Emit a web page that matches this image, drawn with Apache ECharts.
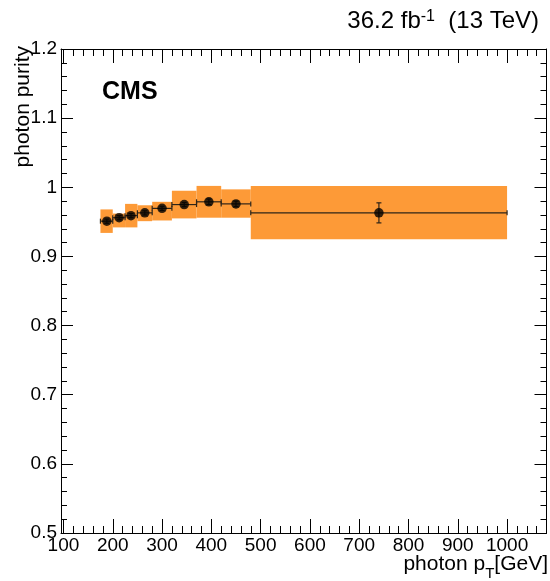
<!DOCTYPE html>
<html>
<head>
<meta charset="utf-8">
<script src="https://cdn.jsdelivr.net/npm/echarts@6/dist/echarts.min.js"></script>
<style>
  html, body { margin: 0; padding: 0; background: #fff; }
  #chart { width: 550px; height: 581px; }
</style>
</head>
<body>
<div id="chart"></div>
<script>
// photon pT bins (GeV)
const binLo = [175, 200, 225, 250, 280, 320, 370, 420, 480];
const binHi = [200, 225, 250, 280, 320, 370, 420, 480, 1000];
const ptCenter = [188, 213, 237, 265, 300, 345, 395, 450, 740];
// measured purity + stat error
const purity = [0.951, 0.956, 0.959, 0.963, 0.9695, 0.975, 0.979, 0.976, 0.963];
const statErr = [0.003, 0.003, 0.003, 0.003, 0.003, 0.003, 0.004, 0.004, 0.0145];
// systematic band (orange boxes)
const bandLo = [0.934, 0.942, 0.942, 0.951, 0.952, 0.955, 0.956, 0.956, 0.925];
const bandHi = [0.968, 0.962, 0.976, 0.974, 0.979, 0.995, 1.002, 0.997, 1.002];
// axis ticks
const xTicks = [100, 200, 300, 400, 500, 600, 700, 800, 900, 1000];
const xMinorTicks = [];
for (let v = 120; v <= 1080; v += 20) {
    if (v % 100 !== 0) xMinorTicks.push(v);
}

const chart = echarts.init(document.getElementById('chart'));
const font = 'Liberation Sans, Helvetica, Arial, sans-serif';
const xMin = 95, xMax = 1080;

// bottom/top x axes, one for major and one for minor ticks
function xAxisDef(pos, minor, labels) {
    return {
        type: 'value', position: pos, min: xMin, max: xMax,
        axisLine: { show: !minor, lineStyle: { color: '#000', width: 1 } },
        axisTick: { inside: true, length: minor ? 7 : 14, customValues: minor ? xMinorTicks : xTicks,
            lineStyle: { color: '#000', width: 1 } },
        axisLabel: labels ? { customValues: xTicks, color: '#000', fontSize: 19, fontFamily: font, margin: 3,
            formatter: v => String(v) } : { show: false },
        splitLine: { show: false }
    };
}
function yAxisDef(pos, labels) {
    return {
        type: 'value', position: pos, min: 0.5, max: 1.2, interval: 0.1,
        axisLine: { show: true, lineStyle: { color: '#000', width: 1 } },
        axisTick: { inside: true, length: 12, lineStyle: { color: '#000', width: 1 } },
        minorTick: { show: true, splitNumber: 5, length: 6, lineStyle: { color: '#000', width: 1 } },
        axisLabel: labels ? { color: '#000', fontSize: 19, fontFamily: font, margin: 4 } : { show: false },
        splitLine: { show: false },
        minorSplitLine: { show: false }
    };
}

chart.setOption({
    animation: false,
    backgroundColor: '#fff',
    grid: { left: 61, right: 3.5, top: 49, bottom: 48 },
    xAxis: [
        xAxisDef('bottom', false, true),
        xAxisDef('bottom', true, false),
        xAxisDef('top', false, false),
        xAxisDef('top', true, false)
    ],
    yAxis: [yAxisDef('left', true), yAxisDef('right', false)],
    graphic: [
        {
            type: 'text', x: 539, y: 9,
            style: {
                text: '{m|36.2 fb}{s|-1}{m|  (13 TeV)}',
                align: 'right', verticalAlign: 'top',
                rich: {
                    m: { fontSize: 24, lineHeight: 24, fontFamily: font, fill: '#000', verticalAlign: 'bottom' },
                    s: { fontSize: 16, lineHeight: 16, fontFamily: font, fill: '#000', verticalAlign: 'top' }
                }
            }
        },
        {
            type: 'text', x: 102, y: 92,
            style: { text: 'CMS', font: 'bold 25px ' + font, fill: '#000', align: 'left', verticalAlign: 'middle' }
        },
        {
            type: 'text', x: 23, y: 46, rotation: Math.PI / 2,
            style: { text: 'photon purity', font: '21px ' + font, fill: '#000', align: 'right', verticalAlign: 'middle' }
        },
        {
            type: 'text', x: 548, y: 554,
            style: {
                text: '{m|photon p}{s|T}{m|[GeV]}',
                align: 'right', verticalAlign: 'top',
                rich: {
                    m: { fontSize: 21, lineHeight: 21, fontFamily: font, fill: '#000', verticalAlign: 'top' },
                    s: { fontSize: 15, lineHeight: 27, fontFamily: font, fill: '#000', verticalAlign: 'bottom' }
                }
            }
        }
    ],
    series: [
        {
            type: 'custom',
            name: 'syst',
            xAxisIndex: 0, yAxisIndex: 0,
            data: binLo.map((lo, i) => [lo, binHi[i], bandLo[i], bandHi[i]]),
            encode: { x: [0, 1], y: [2, 3] },
            renderItem: function (params, api) {
                const p1 = api.coord([api.value(0), api.value(3)]);
                const p2 = api.coord([api.value(1), api.value(2)]);
                return {
                    type: 'rect',
                    shape: { x: p1[0], y: p1[1], width: p2[0] - p1[0], height: p2[1] - p1[1] },
                    style: { fill: '#fd9a37' }
                };
            },
            z: 1
        },
        {
            type: 'custom',
            name: 'errors',
            xAxisIndex: 0, yAxisIndex: 0,
            data: ptCenter.map((x, i) => [x, purity[i], binLo[i], binHi[i], statErr[i]]),
            encode: { x: 0, y: 1 },
            renderItem: function (params, api) {
                const c = api.coord([api.value(0), api.value(1)]);
                const l = api.coord([api.value(2), api.value(1)]);
                const r = api.coord([api.value(3), api.value(1)]);
                const t = api.coord([api.value(0), api.value(1) + api.value(4)]);
                const b = api.coord([api.value(0), api.value(1) - api.value(4)]);
                const st = { stroke: '#2e2418', lineWidth: 1.2 };
                const cap = 2.5;
                return {
                    type: 'group',
                    children: [
                        { type: 'line', shape: { x1: l[0], y1: c[1], x2: r[0], y2: c[1] }, style: st },
                        { type: 'line', shape: { x1: l[0], y1: c[1] - cap, x2: l[0], y2: c[1] + cap }, style: st },
                        { type: 'line', shape: { x1: r[0], y1: c[1] - cap, x2: r[0], y2: c[1] + cap }, style: st },
                        { type: 'line', shape: { x1: c[0], y1: t[1], x2: c[0], y2: b[1] }, style: st },
                        { type: 'line', shape: { x1: c[0] - cap, y1: t[1], x2: c[0] + cap, y2: t[1] }, style: st },
                        { type: 'line', shape: { x1: c[0] - cap, y1: b[1], x2: c[0] + cap, y2: b[1] }, style: st }
                    ]
                };
            },
            z: 2
        },
        {
            type: 'scatter',
            name: 'purity',
            xAxisIndex: 0, yAxisIndex: 0,
            data: ptCenter.map((x, i) => [x, purity[i]]),
            symbol: 'circle',
            symbolSize: 9.5,
            itemStyle: { color: '#000' },
            z: 3
        }
    ]
});
</script>
</body>
</html>
